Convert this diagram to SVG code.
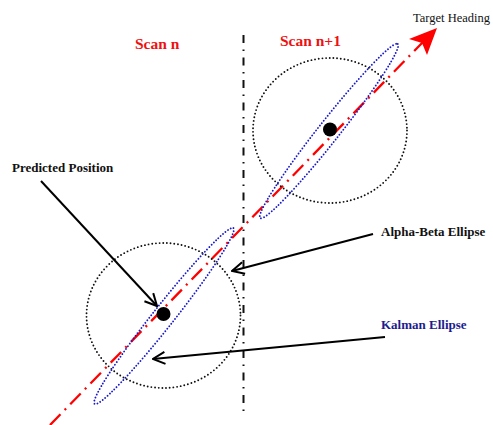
<svg xmlns="http://www.w3.org/2000/svg" width="493" height="425" viewBox="0 0 493 425">
<style>
.lbl{font-family:"Liberation Serif","Times New Roman",serif;font-weight:bold;font-size:13px;fill:#111}
.scan{font-family:"Liberation Serif","Times New Roman",serif;font-weight:bold;font-size:15.5px;fill:#ee1111}
.gate{fill:none;stroke:#111;stroke-width:1.9;stroke-linecap:round;stroke-dasharray:0 3.7}
.ell{fill:none;stroke:#1a1acc;stroke-width:1.9;stroke-linecap:round;stroke-dasharray:0 3.2}
.ptr{fill:none;stroke:#000;stroke-width:2}
.dot{fill:#000}
</style>
<defs>
<marker id="ah" viewBox="0 0 14 14" refX="13" refY="7" markerWidth="14" markerHeight="14" markerUnits="userSpaceOnUse" orient="auto">
<path d="M1,1 L13,7 L1,13" fill="none" stroke="#000" stroke-width="2"/>
</marker>
</defs>
<rect width="493" height="425" fill="#fff"/>
<g id="scan-divider">
<line x1="243.5" y1="35" x2="243.5" y2="415" stroke="#111" stroke-width="2" stroke-dasharray="8 6.5 1.5 6.5"/>
</g>
<g id="scan-labels">
<text class="scan" x="135" y="49">Scan n</text>
<text class="scan" x="280" y="46">Scan n+1</text>
</g>
<g id="heading">
<path d="M50,425 L423,42" stroke="#ff0000" stroke-width="2.3" fill="none" stroke-dasharray="15 6 2 6"/>
<path d="M437,28 L409,39 L422,43 L427,55 Z" fill="#ff0000"/>
<text x="413" y="22" font-family="Liberation Serif,Times New Roman,serif" font-size="12.5" fill="#111">Target Heading</text>
</g>
<g id="scan-n1">
<ellipse class="gate" cx="330" cy="130.5" rx="77" ry="72.5"/>
<ellipse class="ell" cx="329" cy="131" rx="111" ry="10.5" transform="rotate(-51.7 329 131)"/>
<circle class="dot" cx="330" cy="129.5" r="7"/>
</g>
<g id="scan-n">
<ellipse class="gate" cx="163.5" cy="315.5" rx="77" ry="72.5"/>
<ellipse class="ell" cx="164" cy="316" rx="112" ry="10.5" transform="rotate(-51.7 164 316)"/>
<circle class="dot" cx="163.5" cy="314" r="7"/>
</g>
<g id="predicted-position">
<text class="lbl" x="12" y="172">Predicted Position</text>
</g>
<g id="alpha-beta-label">
<text class="lbl" x="381" y="236">Alpha-Beta Ellipse</text>
</g>
<g id="kalman-label">
<text class="lbl" x="381" y="329" style="fill:#1c1c8f">Kalman Ellipse</text>
</g>
<g id="connectors">
<line class="ptr" x1="41" y1="181" x2="157" y2="306" marker-end="url(#ah)"/>
<line class="ptr" x1="373" y1="234" x2="232" y2="271" marker-end="url(#ah)"/>
<line class="ptr" x1="385" y1="337" x2="153" y2="359" marker-end="url(#ah)"/>
</g>
</svg>
